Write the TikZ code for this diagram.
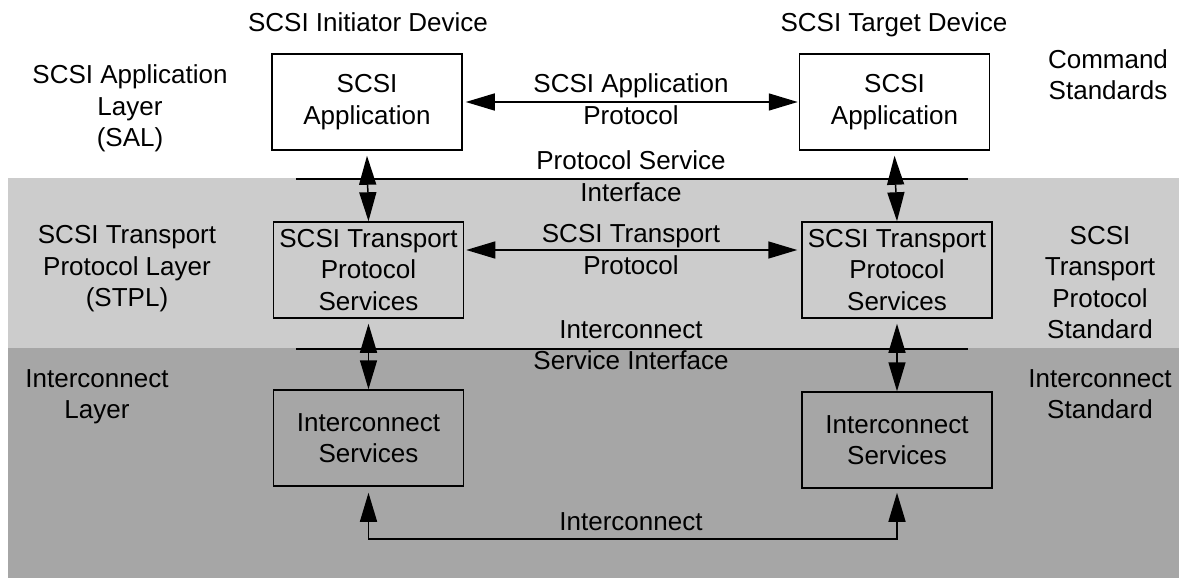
\documentclass[tikz,border=0pt]{standalone}
\usepackage{fontspec}
\setmainfont{Liberation Sans}
\usetikzlibrary{arrows.meta}
\definecolor{lightband}{RGB}{204,204,204}
\definecolor{darkband}{RGB}{166,166,166}
\begin{document}
\begin{tikzpicture}[x=1pt,y=-1pt,
  every node/.style={font=\fontsize{26}{31.5}\selectfont, inner sep=0pt, align=center},
  lbl/.style={execute at begin node=\strut, execute at end node=\strut},
  box/.style={draw, line width=1.5pt, minimum width=190pt, minimum height=96pt},
  conn/.style={line width=1.5pt, {Triangle[length=29pt,width=17pt]}-{Triangle[length=29pt,width=17pt]}},
  iface/.style={line width=1.5pt}]
\useasboundingbox (0,0) rectangle (1179,578);
% bands
\fill[lightband] (8,178) rectangle (1179,348);
\fill[darkband] (8,348) rectangle (1179,578);
% interface lines
\coordinate (psiL) at (296,179);
\coordinate (psiR) at (968,179);
\coordinate (isiL) at (296,349);
\coordinate (isiR) at (968,349);
\draw[iface] (psiL) -- (psiR);
\draw[iface] (isiL) -- (isiR);
% boxes
\node[box] (app1) at (367,102) {SCSI\\Application};
\node[box] (app2) at (894.5,102) {SCSI\\Application};
\node[box] (tps1) at (368.5,270) {SCSI Transport\\Protocol\\Services};
\node[box] (tps2) at (897,270) {SCSI Transport\\Protocol\\Services};
\node[box] (ic1) at (368.5,438) {Interconnect\\Services};
\node[box] (ic2) at (897,440) {Interconnect\\Services};
% connectors
\draw[conn] ([yshift=-5pt]app1.south) -- (tps1.north);
\draw[conn] ([yshift=-5pt]app2.south) -- (tps2.north);
\draw[conn] ([yshift=-5pt]tps1.south) -- (ic1.north);
\draw[conn] ([yshift=-5pt]tps2.south) -- (ic2.north);
\draw[conn] ([xshift=3pt]app1.east) -- ([xshift=-1pt]app2.west);
\draw[conn] ([xshift=2pt,yshift=20pt]tps1.east) -- ([xshift=-4pt,yshift=20pt]tps2.west);
\coordinate (bot) at (0,539);
\draw[conn] ([yshift=-6pt]ic1.south) -- (ic1.south |- bot) -- (ic2.south |- bot) -- ([yshift=-4pt]ic2.south);
% labels
\node[lbl] (initdev) at (368,25) {SCSI Initiator Device};
\node[lbl] (targdev) at (894,25) {SCSI Target Device};
\node[lbl] (sal) at (130,110.5) {SCSI Application\\Layer\\(SAL)};
\node[lbl] (cmdstd) at (1108,79.5) {Command\\Standards};
\node[lbl] (saprot) at (631,104) {SCSI Application\\Protocol};
\node[lbl] (psi) at (631,181) {Protocol Service\\Interface};
\node[lbl] (stprot) at (631,254) {SCSI Transport\\Protocol};
\node[lbl] (isi) at (631,350) {Interconnect\\Service Interface};
\node[lbl] (icl) at (631,524) {Interconnect};
\node[lbl] (stpl) at (127,271) {SCSI Transport\\Protocol Layer\\(STPL)};
\node[lbl] (iclayer) at (97,399) {Interconnect\\Layer};
\node[lbl] (stpstd) at (1100,287) {SCSI\\Transport\\Protocol\\Standard};
\node[lbl] (icstd) at (1100,399) {Interconnect\\Standard};
\end{tikzpicture}
\end{document}
